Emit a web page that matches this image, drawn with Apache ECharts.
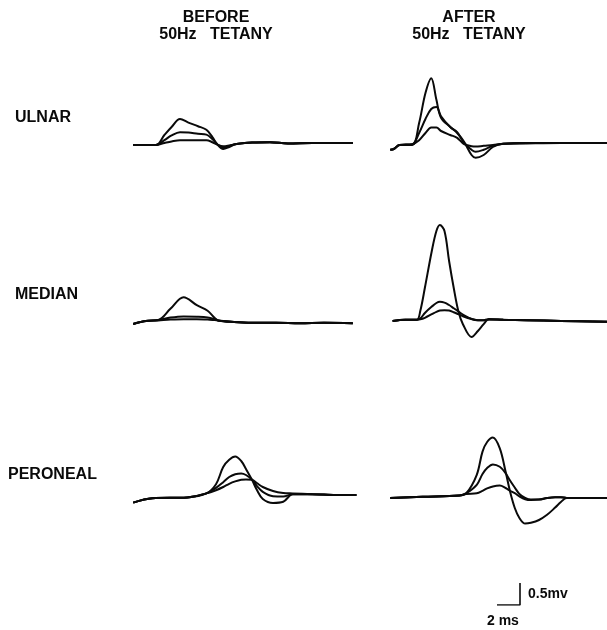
<!DOCTYPE html>
<html><head><meta charset="utf-8">
<script src="https://cdn.jsdelivr.net/npm/echarts@6/dist/echarts.min.js"></script>
<style>html,body{margin:0;padding:0;background:#fff}#c{width:607px;height:630px}</style>
</head><body><div id="c"></div>
<script>
// time in ms, amplitude in mV
var columnTitles = [["BEFORE", "50Hz   TETANY"], ["AFTER", "50Hz   TETANY"]];
var rowNames = ["ULNAR", "MEDIAN", "PERONEAL"];

var ulnarBeforeT = [0.1, 2.0, 2.7, 3.3, 4.0, 4.7, 5.5, 6.2, 6.7, 7.1, 7.6, 8.1, 8.6, 10, 11.5, 13, 15, 18.4];
var ulnarBeforeA = [0, 0, 0.25, 0.45, 0.65, 0.56, 0.47, 0.38, 0.2, 0.02, -0.1, -0.05, 0.02, 0.06, 0.07, 0.04, 0.05, 0.05];
var ulnarBeforeB = [0, 0, 0.12, 0.24, 0.32, 0.31, 0.28, 0.26, 0.15, 0.02, -0.06, -0.03, 0.02, 0.06, 0.07, 0.04, 0.05, 0.05];
var ulnarBeforeC = [0, 0, 0.05, 0.09, 0.12, 0.12, 0.12, 0.12, 0.07, 0.01, -0.03, -0.01, 0.02, 0.06, 0.07, 0.04, 0.05, 0.05];

var ulnarAfterT = [0.2, 0.5, 1.0, 2.1, 2.7, 3.25, 3.75, 4.2, 4.6, 5.4, 6.0, 6.6, 7.25, 7.6, 8.3, 9.1, 10, 12, 15, 19];
var ulnarAfterA = [-0.12, -0.1, 0, 0, 0.55, 1.3, 1.67, 1.13, 0.68, 0.45, 0.3, 0.08, -0.25, -0.32, -0.25, -0.05, 0.03, 0.05, 0.05, 0.05];
var ulnarAfterB = [-0.12, -0.1, 0, 0.02, 0.3, 0.65, 0.9, 0.95, 0.72, 0.45, 0.32, 0.05, -0.12, -0.17, -0.12, -0.02, 0.03, 0.05, 0.05, 0.05];
var ulnarAfterC = [-0.12, -0.1, 0, 0.02, 0.12, 0.3, 0.44, 0.44, 0.35, 0.25, 0.18, 0.02, -0.03, -0.04, -0.02, 0.0, 0.03, 0.04, 0.05, 0.05];

var medianBeforeT = [0.1, 1.0, 2.2, 3.2, 4.3, 5.4, 6.3, 6.9, 7.2, 8.5, 10, 12, 14, 16, 18.4];
var medianBeforeA = [-0.05, 0.02, 0.05, 0.33, 0.62, 0.42, 0.28, 0.1, 0.04, 0.0, -0.02, -0.02, -0.03, -0.02, -0.03];
var medianBeforeB = [-0.05, 0.02, 0.05, 0.11, 0.14, 0.13, 0.11, 0.07, 0.04, 0.0, -0.02, -0.02, -0.03, -0.02, -0.03];
var medianBeforeC = [-0.05, 0.02, 0.04, 0.06, 0.07, 0.07, 0.06, 0.05, 0.03, 0.0, -0.02, -0.02, -0.03, -0.02, -0.03];

var medianAfterT = [0.4, 1.5, 2.5, 2.8, 3.2, 3.8, 4.2, 4.5, 4.9, 5.3, 5.7, 6.1, 6.5, 7.25, 7.8, 8.3, 8.75, 10, 12, 15, 19];
var medianAfterA = [0.0, 0.03, 0.03, 0.25, 0.83, 1.75, 2.25, 2.4, 2.25, 1.5, 0.83, 0.25, -0.08, -0.4, -0.25, -0.08, 0.05, 0.03, 0.02, 0.0, -0.02];
var medianAfterB = [0.0, 0.03, 0.03, 0.06, 0.2, 0.36, 0.45, 0.48, 0.46, 0.4, 0.32, 0.24, 0.16, 0.05, 0.02, 0.02, 0.04, 0.03, 0.02, 0.0, -0.02];
var medianAfterC = [0.0, 0.03, 0.03, 0.04, 0.08, 0.17, 0.23, 0.26, 0.27, 0.26, 0.22, 0.17, 0.12, 0.05, 0.02, 0.02, 0.04, 0.03, 0.02, 0.0, -0.02];

var peronealBeforeT = [0.1, 1.7, 4.6, 6.2, 7.0, 7.6, 8.1, 8.6, 9.1, 9.5, 10.0, 10.4, 10.9, 11.75, 12.6, 13.4, 15, 17, 18.7];
var peronealBeforeA = [-0.09, 0.02, 0.04, 0.14, 0.37, 0.8, 0.98, 1.06, 0.95, 0.75, 0.48, 0.23, 0.0, -0.1, -0.07, 0.12, 0.12, 0.1, 0.1];
var peronealBeforeB = [-0.09, 0.02, 0.04, 0.14, 0.28, 0.42, 0.55, 0.62, 0.64, 0.6, 0.48, 0.33, 0.18, 0.07, 0.06, 0.12, 0.12, 0.1, 0.1];
var peronealBeforeC = [-0.09, 0.02, 0.04, 0.14, 0.22, 0.3, 0.38, 0.44, 0.48, 0.49, 0.48, 0.4, 0.3, 0.2, 0.15, 0.14, 0.12, 0.1, 0.1];

var peronealAfterT = [0.2, 3, 6.2, 6.8, 7.7, 8.2, 8.6, 9.1, 9.7, 10.2, 10.6, 11.0, 11.4, 11.9, 12.4, 13.1, 13.8, 14.5, 15.0, 15.5, 17, 19];
var peronealAfterA = [0.0, 0.03, 0.06, 0.12, 0.58, 1.16, 1.4, 1.51, 1.24, 0.66, 0.15, -0.25, -0.5, -0.64, -0.62, -0.55, -0.42, -0.24, -0.1, 0.0, 0.0, 0.0];
var peronealAfterB = [0.0, 0.03, 0.06, 0.12, 0.33, 0.6, 0.75, 0.84, 0.78, 0.62, 0.43, 0.26, 0.1, 0.0, -0.04, -0.04, 0.0, 0.02, 0.02, 0.0, 0.0, 0.0];
var peronealAfterC = [0.0, 0.03, 0.06, 0.1, 0.12, 0.18, 0.24, 0.29, 0.31, 0.25, 0.18, 0.12, 0.04, -0.03, -0.05, -0.04, 0.0, 0.02, 0.02, 0.0, 0.0, 0.0];

var scaleBarT = [0, 2, 2];
var scaleBarV = [0, 0, 0.5];
var scaleLabels = ["0.5mv", "2 ms"];

var panels = [
  {t: ulnarBeforeT, v: [ulnarBeforeA, ulnarBeforeB, ulnarBeforeC], left: 132, base: 145},
  {t: ulnarAfterT, v: [ulnarAfterA, ulnarAfterB, ulnarAfterC], left: 388, base: 145},
  {t: medianBeforeT, v: [medianBeforeA, medianBeforeB, medianBeforeC], left: 132, base: 322},
  {t: medianAfterT, v: [medianAfterA, medianAfterB, medianAfterC], left: 388, base: 321},
  {t: peronealBeforeT, v: [peronealBeforeA, peronealBeforeB, peronealBeforeC], left: 132, base: 499},
  {t: peronealAfterT, v: [peronealAfterA, peronealAfterB, peronealAfterC], left: 388, base: 498}
];

var PX_MS = 12, PX_MV = 40, YMIN = -1, YMAX = 2.5, XMAX = 19;
var grids = [], xAxes = [], yAxes = [], series = [];
function hiddenAxis(o) {
  o.show = false; o.type = 'value'; o.splitLine = {show: false};
  return o;
}
panels.forEach(function (p, i) {
  grids.push({left: p.left, top: p.base - YMAX * PX_MV, width: XMAX * PX_MS, height: (YMAX - YMIN) * PX_MV});
  xAxes.push(hiddenAxis({gridIndex: i, min: 0, max: XMAX}));
  yAxes.push(hiddenAxis({gridIndex: i, min: YMIN, max: YMAX}));
  p.v.forEach(function (arr) {
    series.push({
      type: 'line', xAxisIndex: i, yAxisIndex: i, smooth: 0.35, showSymbol: false,
      lineStyle: {color: '#0a0a0a', width: 2}, silent: true,
      data: p.t.map(function (t, k) { return [t, arr[k]]; })
    });
  });
});
// scale bar grid
var sb = panels.length;
grids.push({left: 497, top: 583, width: 23, height: 22});
xAxes.push(hiddenAxis({gridIndex: sb, min: 0, max: 2}));
yAxes.push(hiddenAxis({gridIndex: sb, min: 0, max: 0.5}));
series.push({
  type: 'line', xAxisIndex: sb, yAxisIndex: sb, showSymbol: false, silent: true,
  lineStyle: {color: '#0a0a0a', width: 1.6},
  data: scaleBarT.map(function (t, k) { return [t, scaleBarV[k]]; })
});

var titleStyle = {fontFamily: '"Liberation Sans", Arial, sans-serif', fontWeight: 'bold', fontSize: 16, fill: '#0a0a0a'};
var graphics = [];
var colCenters = [216, 469];
columnTitles.forEach(function (lines, i) {
  graphics.push({type: 'text', x: colCenters[i], y: 18, style: Object.assign({text: lines[0], align: 'center', verticalAlign: 'middle'}, titleStyle)});
  graphics.push({type: 'text', x: colCenters[i], y: 35, style: Object.assign({text: lines[1], align: 'center', verticalAlign: 'middle'}, titleStyle)});
});
var rowPos = [[15, 118], [15, 295], [8, 475]];
rowNames.forEach(function (n, i) {
  graphics.push({type: 'text', x: rowPos[i][0], y: rowPos[i][1], style: Object.assign({text: n, align: 'left', verticalAlign: 'middle'}, titleStyle)});
});
graphics.push({type: 'text', x: 528, y: 594, style: Object.assign({text: scaleLabels[0], align: 'left', verticalAlign: 'middle'}, titleStyle, {fontSize: 14})});
graphics.push({type: 'text', x: 487, y: 621, style: Object.assign({text: scaleLabels[1], align: 'left', verticalAlign: 'middle'}, titleStyle, {fontSize: 14})});

var chart = echarts.init(document.getElementById('c'), null, {renderer: 'canvas'});
chart.setOption({
  animation: false,
  backgroundColor: '#fff',
  grid: grids, xAxis: xAxes, yAxis: yAxes, series: series,
  graphic: graphics
});
</script></body></html>
